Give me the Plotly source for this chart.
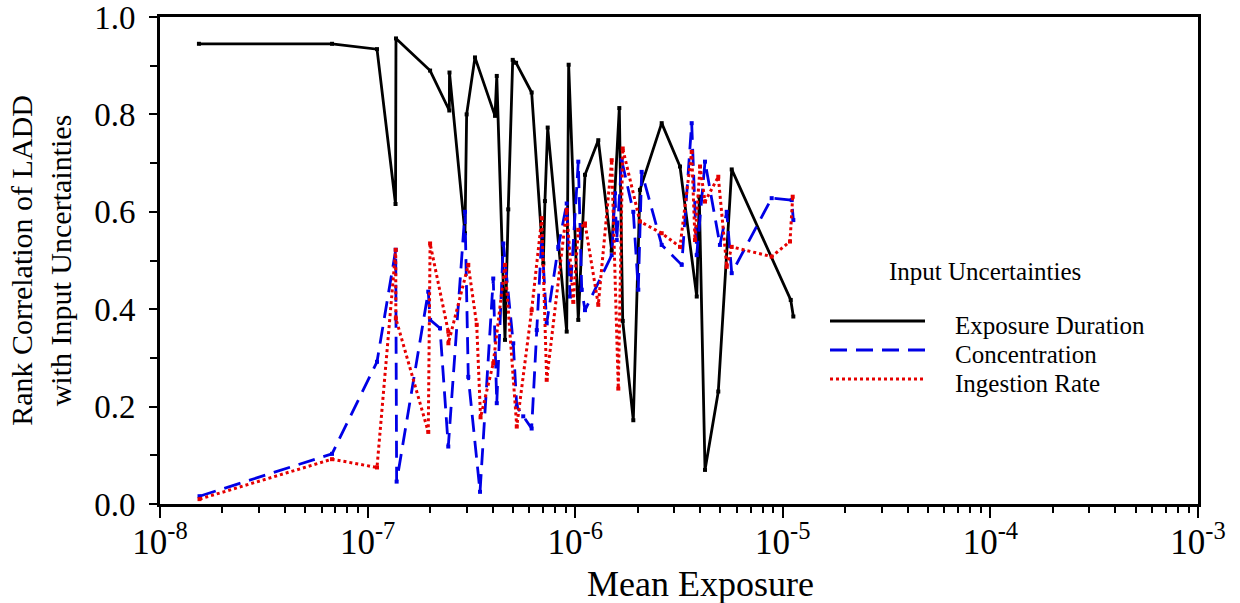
import plotly.graph_objects as go

# ---- data ----
dur_x = [1.54e-8, 6.74e-8, 1.11e-7, 1.363e-7, 1.37e-7, 2.0e-7, 2.475e-7, 2.48e-7, 2.945e-7, 3.0e-7,
         3.29e-7, 4.11e-7, 4.19e-7, 4.59e-7, 4.76e-7, 5.0e-7, 5.19e-7, 6.17e-7, 7.02e-7, 7.15e-7,
         7.37e-7, 9.10e-7, 9.30e-7, 1.035e-6, 1.115e-6, 1.292e-6, 1.499e-6, 1.631e-6, 1.694e-6,
         1.905e-6, 2.051e-6, 2.61e-6, 3.198e-6, 3.85e-6, 3.96e-6, 4.22e-6, 4.89e-6, 5.675e-6,
         1.092e-5, 1.124e-5]
dur_y = [0.945, 0.945, 0.934, 0.616, 0.956, 0.890, 0.808, 0.886, 0.556, 0.800,
         0.917, 0.797, 0.879, 0.337, 0.605, 0.912, 0.906, 0.845, 0.494, 0.622,
         0.773, 0.354, 0.902, 0.378, 0.676, 0.747, 0.520, 0.813, 0.376,
         0.172, 0.645, 0.782, 0.693, 0.426, 0.631, 0.070, 0.231, 0.687,
         0.419, 0.385]

conc_x = [1.55e-8, 6.74e-8, 1.11e-7, 1.366e-7, 1.38e-7, 1.96e-7, 2.0e-7, 2.232e-7, 2.447e-7, 2.945e-7,
          3.055e-7, 3.48e-7, 4.03e-7, 4.19e-7, 4.505e-7, 5.03e-7, 5.23e-7, 5.62e-7, 6.17e-7, 6.53e-7,
          6.90e-7, 7.29e-7, 8.29e-7, 9.10e-7, 9.44e-7, 1.035e-6, 1.075e-6, 1.115e-6, 1.499e-6,
          1.555e-6, 1.585e-6, 1.675e-6, 1.905e-6, 2.013e-6, 2.09e-6, 2.61e-6, 3.26e-6, 3.64e-6,
          3.85e-6, 4.22e-6, 4.98e-6, 5.37e-6, 5.675e-6, 8.84e-6, 1.104e-5, 1.124e-5]
conc_y = [0.016, 0.103, 0.292, 0.522, 0.046, 0.436, 0.378, 0.361, 0.118, 0.600,
          0.261, 0.025, 0.463, 0.207, 0.535, 0.330, 0.200, 0.180, 0.155, 0.357,
          0.549, 0.371, 0.528, 0.617, 0.426, 0.703, 0.440, 0.398, 0.511,
          0.638, 0.542, 0.706, 0.600, 0.440, 0.682, 0.532, 0.491, 0.782,
          0.511, 0.703, 0.532, 0.600, 0.474, 0.628, 0.624, 0.583]

ing_x = [1.55e-8, 6.74e-8, 1.11e-7, 1.366e-7, 1.368e-7, 1.96e-7, 2.0e-7, 2.447e-7, 2.45e-7, 3.055e-7,
         3.354e-7, 3.50e-7, 4.03e-7, 4.59e-7, 5.23e-7, 6.17e-7, 6.90e-7, 7.29e-7, 9.10e-7, 9.79e-7,
         1.035e-6, 1.115e-6, 1.292e-6, 1.499e-6, 1.613e-6, 1.694e-6, 2.051e-6, 2.61e-6, 3.198e-6,
         3.64e-6, 3.776e-6, 3.993e-6, 4.22e-6, 4.89e-6, 5.37e-6, 5.675e-6, 8.84e-6, 1.083e-5, 1.116e-5]
ing_y = [0.010, 0.092, 0.075, 0.522, 0.381, 0.148, 0.535, 0.354, 0.330, 0.491,
         0.368, 0.178, 0.289, 0.491, 0.159, 0.398, 0.587, 0.255, 0.604, 0.415,
         0.563, 0.576, 0.409, 0.706, 0.237, 0.730, 0.580, 0.556, 0.528,
         0.723, 0.542, 0.693, 0.621, 0.672, 0.487, 0.528, 0.508, 0.539, 0.631]

x_tickvals = [1e-8, 1e-7, 1e-6, 1e-5, 1e-4, 1e-3]
x_ticktext = ["10<sup>-8</sup>", "10<sup>-7</sup>", "10<sup>-6</sup>",
              "10<sup>-5</sup>", "10<sup>-4</sup>", "10<sup>-3</sup>"]
y_tickvals = [0.0, 0.2, 0.4, 0.6, 0.8, 1.0]
y_ticktext = ["0.0", "0.2", "0.4", "0.6", "0.8", "1.0"]

series_names = ["Exposure Duration", "Concentration", "Ingestion Rate"]
legend_title = "Input Uncertainties"
x_title = "Mean Exposure"
y_title = "Rank Correlation of LADD<br>with Input Uncertainties"

FONT = "Liberation Serif, Times New Roman, serif"
BLACK = "#000000"
BLUE = "#0000e6"
RED = "#e60000"

styles = [dict(color=BLACK, width=2.8, dash="solid"),
          dict(color=BLUE, width=2.8, dash="17px,9px"),
          dict(color=RED, width=3, dash="3px,3px")]

fig = go.Figure()
for xs, ys, name, st in zip([dur_x, conc_x, ing_x], [dur_y, conc_y, ing_y], series_names, styles):
    fig.add_trace(go.Scatter(x=xs, y=ys, mode="lines+markers", name=name, line=st,
                             marker=dict(symbol="square", size=4, color=st["color"])))

minor_x = [k * 10.0 ** n for n in range(-8, -3) for k in range(2, 10)]

fig.update_xaxes(type="log", range=[-8, -3], showgrid=False, zeroline=False,
                 showline=True, linecolor="black", linewidth=3, mirror=True,
                 ticks="outside", ticklen=11, tickwidth=2, tickcolor="black",
                 tickvals=x_tickvals, ticktext=x_ticktext, ticklabelstandoff=-6,
                 ticklabeloverflow="allow", automargin=False,
                 tickfont=dict(family=FONT, size=35, color="black"),
                 minor=dict(tickvals=minor_x, ticks="outside", ticklen=6, tickwidth=2, tickcolor="black"))
fig.update_yaxes(range=[0, 1.0], showgrid=False, zeroline=False,
                 showline=True, linecolor="black", linewidth=3, mirror=True,
                 ticks="outside", ticklen=8, tickwidth=2, tickcolor="black",
                 tickvals=y_tickvals, ticktext=y_ticktext, ticklabelstandoff=7,
                 ticklabeloverflow="allow", automargin=False,
                 tickfont=dict(family=FONT, size=33, color="black"),
                 minor=dict(dtick=0.1, ticks="outside", ticklen=7, tickwidth=2, tickcolor="black"),
                 title=dict(text=y_title, font=dict(family=FONT, size=30, color="black"), standoff=14))

plot_l, plot_r, plot_t, plot_b = 160, 1198, 17, 504
def px(x):
    return (x - plot_l) / (plot_r - plot_l)
def py(y):
    return (plot_b - y) / (plot_b - plot_t)

# x-axis title
fig.add_annotation(xref="paper", yref="paper", x=px(700), y=py(584), text=x_title,
                   showarrow=False, xanchor="center", yanchor="middle",
                   font=dict(family=FONT, size=36, color="black"))

# legend drawn as shapes + text
leg_rows = [321, 350, 379]
for name, st, yy in zip(series_names, styles, leg_rows):
    fig.add_shape(type="line", xref="paper", yref="paper",
                  x0=px(830), x1=px(925), y0=py(yy), y1=py(yy), line=st)
    fig.add_annotation(xref="paper", yref="paper", x=px(953), y=py(yy + 4), text=name,
                       showarrow=False, xanchor="left", yanchor="middle",
                       font=dict(family=FONT, size=25, color="black"))
fig.add_annotation(xref="paper", yref="paper", x=px(985), y=py(271), text=legend_title,
                   showarrow=False, xanchor="center", yanchor="middle",
                   font=dict(family=FONT, size=25, color="black"))

fig.update_layout(width=1240, height=603, showlegend=False,
                  margin=dict(l=plot_l, r=1240 - plot_r, t=plot_t, b=603 - plot_b, autoexpand=False),
                  plot_bgcolor="white", paper_bgcolor="white",
                  font=dict(family=FONT, color="black"))

fig.write_html("out.html", config={"displayModeBar": False})
